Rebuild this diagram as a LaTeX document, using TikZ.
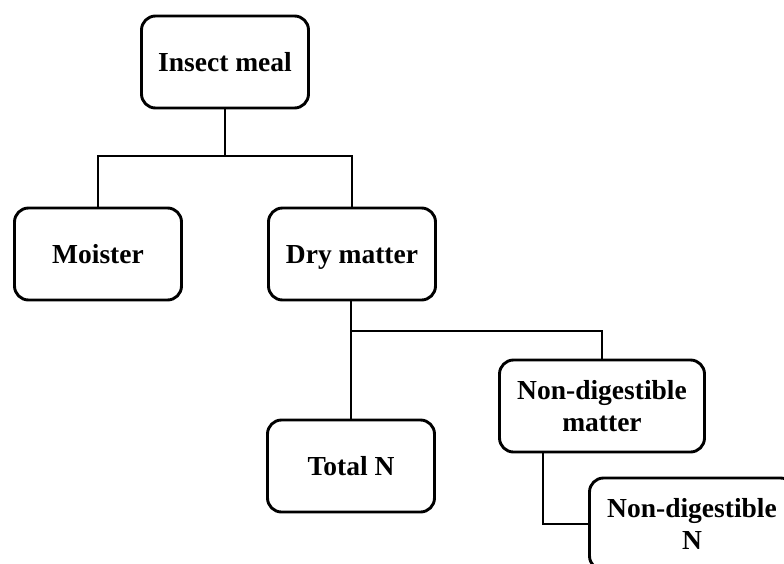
\documentclass[tikz,border=0pt]{standalone}
\usepackage{fontspec}
\setmainfont{Liberation Serif}
\begin{document}
\begin{tikzpicture}[x=1pt, y=-1pt, line width=2.9pt,
  box/.style={draw, rectangle, rounded corners=14pt,
    minimum width=167pt, minimum height=92pt,
    font=\fontsize{27.5}{32}\selectfont\bfseries},
  oneline/.style={text height=18pt, text depth=0pt},
  twoline/.style={align=center, minimum width=205pt}]
  \useasboundingbox (0,0) rectangle (784,563);
  \node (meal) [box, oneline] at (225,62) {Insect meal};
  \node (moist) [box, oneline] at (98,254) {Moister};
  \node (dry) [box, oneline] at (352,254) {Dry matter};
  \node (totN) [box, oneline] at (351,466) {Total N};
  \node (ndm) [box, twoline] at (602,406) {Non-digestible\\matter};
  \node (ndN) [box, twoline] at (692,524) {Non-digestible\\N};

  \coordinate (split1) at (225,156);
  \coordinate (split2) at (351,331);

  \draw (meal) -- (split1);
  \draw (split1) -| (moist);
  \draw (split1) -| (dry);
  \draw (dry.south -| split2) -- (totN.north -| split2);
  \draw (split2) -| (ndm);
  \draw ([xshift=-59pt]ndm.south) |- (ndN);
\end{tikzpicture}
\end{document}
